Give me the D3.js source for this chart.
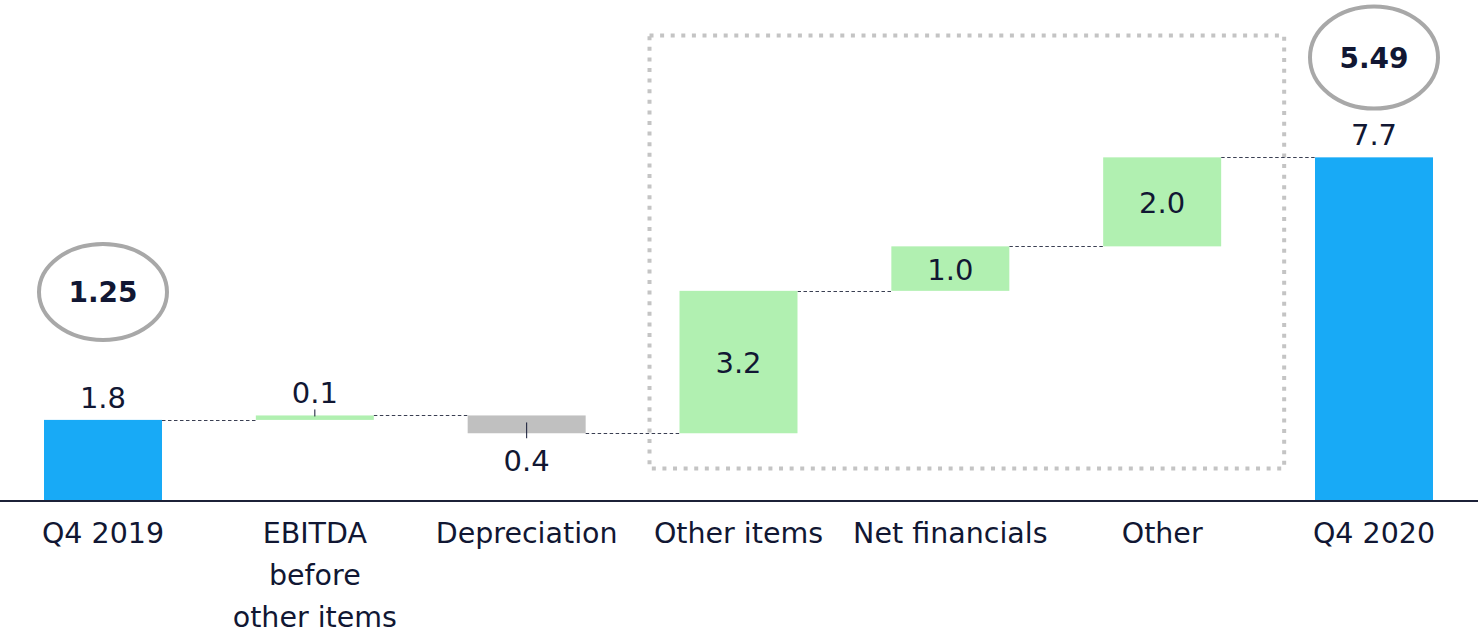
<!DOCTYPE html>
<meta charset="utf-8">
<style>
body { margin: 0; background: #fff; }
svg text { font-family: "DejaVu Sans", Verdana, sans-serif; fill: #111733; }
.conn { stroke: #3a3f52; stroke-width: 1; stroke-dasharray: 3.5,2.5; fill: none; }
</style>
<body>
<script src="https://cdn.jsdelivr.net/npm/d3@7"></script>
<script>
// waterfall data
var categories = ["Q4 2019", "EBITDA before other items", "Depreciation", "Other items", "Net financials", "Other", "Q4 2020"];
var labelLines = [["Q4 2019"], ["EBITDA", "before", "other items"], ["Depreciation"], ["Other items"], ["Net financials"], ["Other"], ["Q4 2020"]];
var values = [1.8, 0.1, -0.4, 3.2, 1.0, 2.0, 7.7];
var kinds = ["total", "up", "down", "up", "up", "up", "total"];
var bubbleCats = ["Q4 2019", "Q4 2020"];
var bubbleText = ["1.25", "5.49"];

var W = 1478, H = 635;
var colors = { total: "#18aaf6", up: "#b1f0b1", down: "#c0c0c0" };

var svg = d3.select("body").append("svg")
    .attr("width", W)
    .attr("height", H);

var x = d3.scaleBand()
    .domain(categories)
    .range([44, 1433])
    .paddingInner(0.443)
    .paddingOuter(0);

var y = d3.scaleLinear()
    .domain([0, 10])
    .range([500, 55]);

// build steps
var run = 0;
var steps = categories.map(function(c, i) {
  var s, e;
  if (kinds[i] == "total") { s = 0; e = values[i]; run = values[i]; }
  else { s = run; e = run + values[i]; run = e; }
  return { cat: c, lines: labelLines[i], v: values[i], kind: kinds[i], start: s, end: e };
});

// dotted box around the "other items" group
var boxL = x("Other items") - 30, boxR = x("Other") + x.bandwidth() + 63;
svg.append("rect")
    .attr("x", boxL).attr("y", 35.5)
    .attr("width", boxR - boxL).attr("height", 433)
    .attr("fill", "none")
    .attr("stroke", "#c4c4c4")
    .attr("stroke-width", 4)
    .attr("stroke-dasharray", "4,6.6");

// connectors
for (var i = 0; i < steps.length - 1; i++) {
  var lvl = steps[i].end;
  svg.append("line").attr("class", "conn")
      .attr("x1", x(steps[i].cat) + x.bandwidth())
      .attr("x2", x(steps[i + 1].cat))
      .attr("y1", Math.round(y(lvl)) + 0.5)
      .attr("y2", Math.round(y(lvl)) + 0.5);
}

svg.selectAll(".bar")
    .data(steps)
  .enter().append("rect")
    .attr("class", "bar")
    .attr("x", function(d) { return x(d.cat); })
    .attr("y", function(d) { return y(Math.max(d.start, d.end)); })
    .attr("width", x.bandwidth())
    .attr("height", function(d) { return Math.abs(y(d.start) - y(d.end)); })
    .attr("fill", function(d) { return colors[d.kind]; });

// axis line
svg.append("line")
    .attr("x1", 0).attr("x2", W)
    .attr("y1", y(0) + 1).attr("y2", y(0) + 1)
    .attr("stroke", "#1c2138")
    .attr("stroke-width", 2);

// value labels
steps.forEach(function(d) {
  var cx = x(d.cat) + x.bandwidth() / 2;
  var top = y(Math.max(d.start, d.end)), bot = y(Math.min(d.start, d.end));
  var h = bot - top;
  var txt = d3.format(".1f")(Math.abs(d.v));
  var ty;
  if (d.kind == "total") {
    ty = top - 12;
  } else if (h > 40) {
    ty = (top + bot) / 2 + 11;
  } else if (d.kind == "down") {
    ty = bot + 38;
    svg.append("line").attr("x1", cx).attr("x2", cx)
        .attr("y1", top + 7).attr("y2", bot + 5)
        .attr("stroke", "#111733").attr("stroke-width", 1);
  } else {
    ty = top - 12;
    svg.append("line").attr("x1", cx).attr("x2", cx)
        .attr("y1", top - 6).attr("y2", top + 1)
        .attr("stroke", "#111733").attr("stroke-width", 1);
  }
  svg.append("text")
      .attr("x", cx).attr("y", ty)
      .attr("text-anchor", "middle")
      .attr("font-size", "29px")
      .text(txt);
});

// category labels
steps.forEach(function(d) {
  var t = svg.append("text")
      .attr("x", x(d.cat) + x.bandwidth() / 2)
      .attr("y", 543)
      .attr("text-anchor", "middle")
      .attr("font-size", "28.5px");
  d.lines.forEach(function(l, j) {
    t.append("tspan")
        .attr("x", x(d.cat) + x.bandwidth() / 2)
        .attr("dy", j == 0 ? 0 : 42)
        .text(l);
  });
});

// EPS bubbles
var bubbleY = [292, 57.5], bubbleRy = [48, 51];
bubbleCats.forEach(function(c, i) {
  var cx = x(c) + x.bandwidth() / 2;
  svg.append("ellipse")
      .attr("cx", cx).attr("cy", bubbleY[i])
      .attr("rx", 64).attr("ry", bubbleRy[i])
      .attr("fill", "none")
      .attr("stroke", "#a8a8a8")
      .attr("stroke-width", 4);
  svg.append("text")
      .attr("x", cx).attr("y", bubbleY[i] + 10)
      .attr("text-anchor", "middle")
      .attr("font-size", "28px")
      .attr("font-weight", "bold")
      .text(bubbleText[i]);
});
</script>
</body>
